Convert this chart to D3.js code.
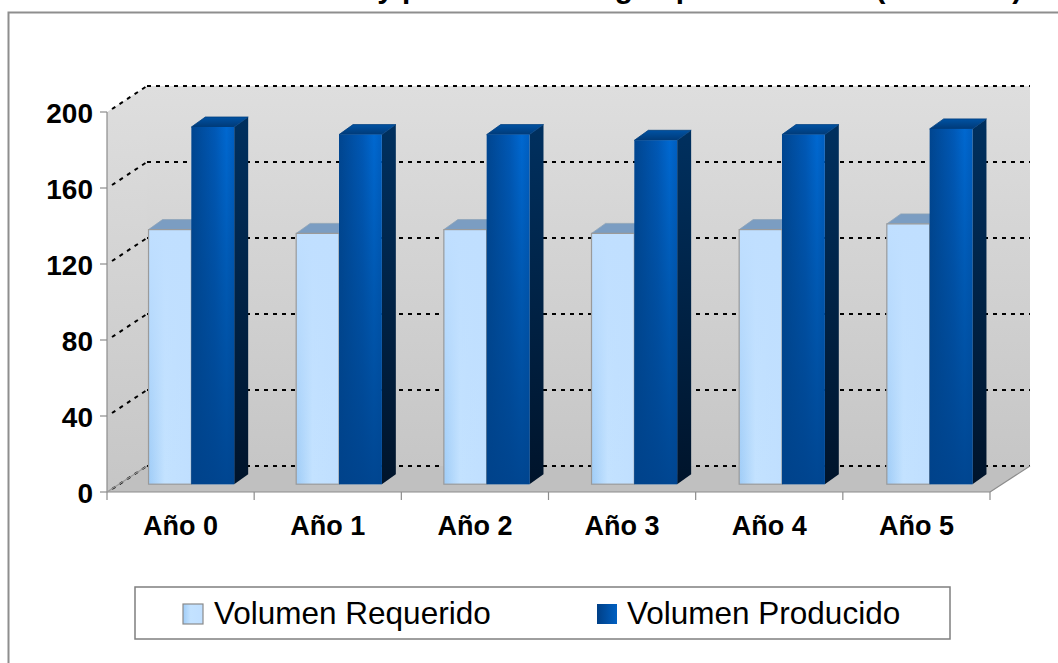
<!DOCTYPE html>
<html>
<head>
<meta charset="utf-8">
<script src="https://cdn.jsdelivr.net/npm/d3@7"></script>
<style>
  body { margin: 0; background: #fff; }
  svg { display: block; font-family: Arial, "Liberation Sans", sans-serif; }
</style>
</head>
<body>
<div id="chart"></div>
<script>
// datos del grafico
const titulo = "Volumen demandado y producido de agua potable anual (miles m3)";
const categorias = ["Año 0", "Año 1", "Año 2", "Año 3", "Año 4", "Año 5"];
const series = ["Volumen Requerido", "Volumen Producido"];
const volumenRequerido = [134, 132, 134, 132, 134, 137];
const volumenProducido = [188, 184, 184, 181, 184, 187];
const ticksY = [0, 40, 80, 120, 160, 200];

let config = {
    div: '#chart',
    width: 1058,
    height: 663,
    x0: 107, x1: 990,      // plano frontal
    y0: 492, y1: 112,
    dx: 40, dy: 26,        // profundidad del 3D
    barFront: 0.3,         // donde empieza la barra en profundidad
    barDx: 14, barDy: 10   // grosor de la barra
};

const svg = d3.select(config.div).append("svg")
    .attr("width", config.width)
    .attr("height", config.height);

const defs = svg.append("defs");

function gradiente(id, stops, vertical) {
    let g = defs.append("linearGradient").attr("id", id)
        .attr("x1", 0).attr("y1", 0)
        .attr("x2", vertical ? 0 : 1).attr("y2", vertical ? 1 : 0);
    stops.forEach(s => g.append("stop")
        .attr("offset", s[0]).attr("stop-color", s[1])
        .attr("stop-opacity", s[2] === undefined ? 1 : s[2]));
}

gradiente("pared", [[0, "#dedede"], [1, "#c6c6c6"]], true);
gradiente("claroFrente", [[0, "#9fccf7"], [0.38, "#c3e2ff"], [1, "#c0dfff"]]);
gradiente("claroVelo", [[0, "#c0dfff", 1], [0.45, "#c0dfff", 0.6], [1, "#c0dfff", 0]], true);
gradiente("oscuroFrente", [[0, "#00458f"], [0.55, "#0058b5"], [0.82, "#0068d0"], [1, "#005ec0"]]);
gradiente("oscuroVelo", [[0, "#00448a", 0], [0.45, "#00448a", 0.45], [1, "#00428a", 0.9]], true);
gradiente("oscuroLado", [[0, "#00305f"], [1, "#00142b"]], true);
gradiente("oscuroTecho", [[0, "#0052a3"], [1, "#003a78"]], true);
gradiente("leyendaOscuro", [[0, "#003f86"], [1, "#0060c2"]]);

// escalas
const x = d3.scaleBand().domain(categorias).range([config.x0, config.x1]);
const xGrupo = d3.scaleBand().domain(categorias).range([config.x0, config.x1])
    .paddingInner(0.42).paddingOuter(0.2);
const xSerie = d3.scaleBand().domain(series).range([0, xGrupo.bandwidth()]);
const y = d3.scaleLinear().domain([0, 200]).range([config.y0, config.y1]);

const gx = config.x0 + config.dx, gx1 = config.x1 + config.dx;

// titulo (cortado por arriba en la imagen)
svg.append("text")
    .attr("x", 71).attr("y", -2)
    .attr("font-size", 29.7).attr("font-weight", "bold")
    .text(titulo);

// marco del grafico
svg.append("rect")
    .attr("x", 8.5).attr("y", 12.5)
    .attr("width", 1100).attr("height", 700)
    .attr("fill", "none").attr("stroke", "#8e8e8e").attr("stroke-width", 2);

// paredes
svg.append("polygon")
    .attr("points", [[config.x0, y(200)], [gx, y(200) - config.dy],
        [gx, y(0) - config.dy], [config.x0, y(0)]].join(" "))
    .attr("fill", "url(#pared)");
svg.append("rect")
    .attr("x", gx).attr("y", y(200) - config.dy)
    .attr("width", gx1 - gx).attr("height", y(0) - y(200))
    .attr("fill", "url(#pared)");
svg.append("polygon")
    .attr("points", [[config.x0, y(0)], [gx, y(0) - config.dy],
        [gx1, y(0) - config.dy], [config.x1, y(0)]].join(" "))
    .attr("fill", "#c0c0c0");

// lineas de division punteadas
const grid = svg.append("g").attr("stroke", "#000").attr("stroke-width", 2)
    .attr("stroke-dasharray", "4,5").attr("fill", "none");
ticksY.forEach(t => {
    grid.append("line")
        .attr("x1", gx).attr("x2", gx1)
        .attr("y1", y(t) - config.dy).attr("y2", y(t) - config.dy);
    grid.append("line")
        .attr("x1", config.x0 + 5).attr("y1", y(t) - 3)
        .attr("x2", gx).attr("y2", y(t) - config.dy);
});

// ejes
const ejes = svg.append("g").attr("stroke", "#8c8c8c").attr("stroke-width", 1.2).attr("fill", "none");
ejes.append("line").attr("x1", config.x0).attr("x2", config.x0).attr("y1", y(200)).attr("y2", y(0));
ejes.append("line").attr("x1", config.x0).attr("x2", config.x1).attr("y1", y(0)).attr("y2", y(0));
ejes.append("line").attr("x1", config.x1).attr("y1", y(0)).attr("x2", gx1).attr("y2", y(0) - config.dy);
ejes.append("line").attr("x1", config.x0).attr("y1", y(0)).attr("x2", gx).attr("y2", y(0) - config.dy)
    .attr("stroke", "#999");
ticksY.forEach(t => {
    ejes.append("line").attr("x1", config.x0 - 7).attr("x2", config.x0).attr("y1", y(t)).attr("y2", y(t));
});
categorias.concat([null]).forEach((c, i) => {
    let xt = c === null ? config.x1 : x(c);
    ejes.append("line").attr("x1", xt).attr("x2", xt).attr("y1", y(0)).attr("y2", y(0) + 8);
});

// etiquetas de los ejes
svg.append("g").selectAll("text").data(ticksY).join("text")
    .attr("x", 93).attr("y", d => y(d) + 11)
    .attr("text-anchor", "end")
    .attr("font-size", 28).attr("font-weight", "bold")
    .text(d => d);

svg.append("g").selectAll("text").data(categorias).join("text")
    .attr("x", d => x(d) + x.bandwidth() / 2).attr("y", 535)
    .attr("text-anchor", "middle")
    .attr("font-size", 27).attr("font-weight", "bold")
    .text(d => d);

// barras
const fdx = config.barFront * config.dx, fdy = config.barFront * config.dy;
const bdx = config.barDx, bdy = config.barDy;
const datos = [];
categorias.forEach((c, i) => {
    datos.push({ cat: c, serie: series[0], v: volumenRequerido[i] });
    datos.push({ cat: c, serie: series[1], v: volumenProducido[i] });
});

const barras = svg.append("g");
datos.forEach(d => {
    let bx = xGrupo(d.cat) + xSerie(d.serie) + fdx;
    let bw = xSerie.bandwidth();
    let top = y(d.v) - fdy;
    let bot = y(0) - fdy;
    let claro = d.serie === series[0];
    let g = barras.append("g");

    g.append("polygon")
        .attr("points", [[bx + bw, top], [bx + bw + bdx, top - bdy], [bx + bw + bdx, bot - bdy], [bx + bw, bot]].join(" "))
        .attr("fill", claro ? "#8fb4d8" : "url(#oscuroLado)");
    g.append("polygon")
        .attr("points", [[bx, top], [bx + bdx, top - bdy], [bx + bw + bdx, top - bdy], [bx + bw, top]].join(" "))
        .attr("fill", claro ? "#7b9dc2" : "url(#oscuroTecho)")
        .attr("stroke", claro ? "#8ea3b8" : "#003f7f").attr("stroke-width", 0.8);
    g.append("rect")
        .attr("x", bx).attr("y", top).attr("width", bw).attr("height", bot - top)
        .attr("fill", claro ? "url(#claroFrente)" : "url(#oscuroFrente)");
    g.append("rect")
        .attr("x", bx).attr("y", top).attr("width", bw).attr("height", bot - top)
        .attr("fill", claro ? "url(#claroVelo)" : "url(#oscuroVelo)")
        .attr("stroke", claro ? "#9a9a9a" : "none").attr("stroke-width", 1.2);
});

// leyenda
const ley = svg.append("g");
ley.append("rect")
    .attr("x", 135).attr("y", 587).attr("width", 815).attr("height", 52)
    .attr("fill", "#fff").attr("stroke", "#7f7f7f").attr("stroke-width", 1.5);
const posLey = [{ sx: 183, tx: 214 }, { sx: 597, tx: 627 }];
series.forEach((s, i) => {
    ley.append("rect")
        .attr("x", posLey[i].sx).attr("y", 604).attr("width", 20).attr("height", 20)
        .attr("fill", i === 0 ? "url(#claroFrente)" : "url(#leyendaOscuro)")
        .attr("stroke", i === 0 ? "#8a8a8a" : "none").attr("stroke-width", 1.2);
    ley.append("text")
        .attr("x", posLey[i].tx).attr("y", 624)
        .attr("font-size", 31.5)
        .text(s);
});
</script>
</body>
</html>
